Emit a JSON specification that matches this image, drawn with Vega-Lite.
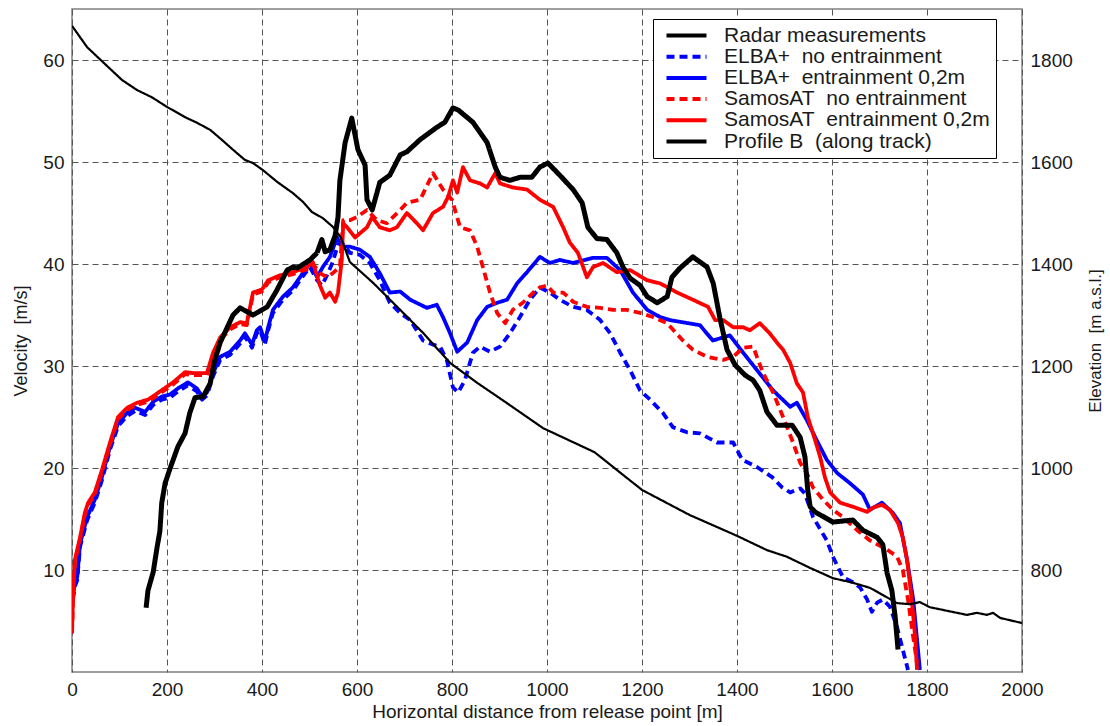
{
  "$schema": "https://vega.github.io/schema/vega-lite/v6.json",
  "autosize": {"type": "none"},
  "padding": {"left": 72, "top": 9, "right": 88, "bottom": 54},
  "width": 950,
  "height": 663,
  "background": "white",
  "config": {
    "font": "Liberation Sans",
    "view": {"stroke": "#808080", "strokeWidth": 1.5},
    "axis": {
      "labelFont": "Liberation Sans", "labelFontSize": 19, "labelColor": "#1a1a1a", "labelFlush": false,
      "titleFont": "Liberation Sans", "titleFontSize": 18, "titleFontWeight": "normal", "titleColor": "#1a1a1a",
      "domain": false, "ticks": false,
      "gridColor": "#555555", "gridDash": [6, 4], "gridWidth": 1, "gridOpacity": 1
    },
    "legend": {"labelFont": "Liberation Sans"}
  },
  "datasets": {
    "vel": [
      {"s": "ELBA+\u00a0 no entrainment", "x": 2, "v": 7.1}, {"s": "ELBA+\u00a0 no entrainment", "x": 6, "v": 8.4}, {"s": "ELBA+\u00a0 no entrainment", "x": 11, "v": 9.0}, {"s": "ELBA+\u00a0 no entrainment", "x": 17, "v": 12.3}, {"s": "ELBA+\u00a0 no entrainment", "x": 32, "v": 14.9}, {"s": "ELBA+\u00a0 no entrainment", "x": 48, "v": 16.6}, {"s": "ELBA+\u00a0 no entrainment", "x": 63, "v": 18.8}, {"s": "ELBA+\u00a0 no entrainment", "x": 80, "v": 21.8}, {"s": "ELBA+\u00a0 no entrainment", "x": 97, "v": 24.1}, {"s": "ELBA+\u00a0 no entrainment", "x": 116, "v": 25.1}, {"s": "ELBA+\u00a0 no entrainment", "x": 133, "v": 25.6}, {"s": "ELBA+\u00a0 no entrainment", "x": 154, "v": 25.2}, {"s": "ELBA+\u00a0 no entrainment", "x": 171, "v": 26.2}, {"s": "ELBA+\u00a0 no entrainment", "x": 189, "v": 26.7}, {"s": "ELBA+\u00a0 no entrainment", "x": 206, "v": 26.9}, {"s": "ELBA+\u00a0 no entrainment", "x": 223, "v": 27.5}, {"s": "ELBA+\u00a0 no entrainment", "x": 244, "v": 28.1}, {"s": "ELBA+\u00a0 no entrainment", "x": 263, "v": 27.5}, {"s": "ELBA+\u00a0 no entrainment", "x": 274, "v": 26.7}, {"s": "ELBA+\u00a0 no entrainment", "x": 284, "v": 27.1}, {"s": "ELBA+\u00a0 no entrainment", "x": 297, "v": 29.0}, {"s": "ELBA+\u00a0 no entrainment", "x": 312, "v": 30.6}, {"s": "ELBA+\u00a0 no entrainment", "x": 333, "v": 31.1}, {"s": "ELBA+\u00a0 no entrainment", "x": 354, "v": 32.2}, {"s": "ELBA+\u00a0 no entrainment", "x": 364, "v": 32.9}, {"s": "ELBA+\u00a0 no entrainment", "x": 379, "v": 31.8}, {"s": "ELBA+\u00a0 no entrainment", "x": 389, "v": 33.2}, {"s": "ELBA+\u00a0 no entrainment", "x": 396, "v": 33.5}, {"s": "ELBA+\u00a0 no entrainment", "x": 406, "v": 32.1}, {"s": "ELBA+\u00a0 no entrainment", "x": 413, "v": 33.5}, {"s": "ELBA+\u00a0 no entrainment", "x": 423, "v": 35.2}, {"s": "ELBA+\u00a0 no entrainment", "x": 444, "v": 36.5}, {"s": "ELBA+\u00a0 no entrainment", "x": 465, "v": 37.4}, {"s": "ELBA+\u00a0 no entrainment", "x": 486, "v": 38.8}, {"s": "ELBA+\u00a0 no entrainment", "x": 501, "v": 39.7}, {"s": "ELBA+\u00a0 no entrainment", "x": 516, "v": 38.4}, {"s": "ELBA+\u00a0 no entrainment", "x": 526, "v": 37.9}, {"s": "ELBA+\u00a0 no entrainment", "x": 537, "v": 38.9}, {"s": "ELBA+\u00a0 no entrainment", "x": 549, "v": 40.2}, {"s": "ELBA+\u00a0 no entrainment", "x": 560, "v": 41.9}, {"s": "ELBA+\u00a0 no entrainment", "x": 568, "v": 42.1}, {"s": "ELBA+\u00a0 no entrainment", "x": 585, "v": 41.1}, {"s": "ELBA+\u00a0 no entrainment", "x": 606, "v": 40.9}, {"s": "ELBA+\u00a0 no entrainment", "x": 627, "v": 40.1}, {"s": "ELBA+\u00a0 no entrainment", "x": 648, "v": 38.4}, {"s": "ELBA+\u00a0 no entrainment", "x": 669, "v": 36.2}, {"s": "ELBA+\u00a0 no entrainment", "x": 691, "v": 35.2}, {"s": "ELBA+\u00a0 no entrainment", "x": 712, "v": 34.5}, {"s": "ELBA+\u00a0 no entrainment", "x": 739, "v": 32.5}, {"s": "ELBA+\u00a0 no entrainment", "x": 760, "v": 32.1}, {"s": "ELBA+\u00a0 no entrainment", "x": 775, "v": 31.9}, {"s": "ELBA+\u00a0 no entrainment", "x": 789, "v": 30.6}, {"s": "ELBA+\u00a0 no entrainment", "x": 802, "v": 27.9}, {"s": "ELBA+\u00a0 no entrainment", "x": 813, "v": 27.4}, {"s": "ELBA+\u00a0 no entrainment", "x": 827, "v": 28.6}, {"s": "ELBA+\u00a0 no entrainment", "x": 844, "v": 31.3}, {"s": "ELBA+\u00a0 no entrainment", "x": 859, "v": 31.9}, {"s": "ELBA+\u00a0 no entrainment", "x": 880, "v": 31.4}, {"s": "ELBA+\u00a0 no entrainment", "x": 901, "v": 31.9}, {"s": "ELBA+\u00a0 no entrainment", "x": 922, "v": 33.2}, {"s": "ELBA+\u00a0 no entrainment", "x": 943, "v": 34.8}, {"s": "ELBA+\u00a0 no entrainment", "x": 964, "v": 36.5}, {"s": "ELBA+\u00a0 no entrainment", "x": 985, "v": 37.7}, {"s": "ELBA+\u00a0 no entrainment", "x": 1006, "v": 37.2}, {"s": "ELBA+\u00a0 no entrainment", "x": 1027, "v": 36.5}, {"s": "ELBA+\u00a0 no entrainment", "x": 1055, "v": 35.8}, {"s": "ELBA+\u00a0 no entrainment", "x": 1084, "v": 35.5}, {"s": "ELBA+\u00a0 no entrainment", "x": 1112, "v": 34.5}, {"s": "ELBA+\u00a0 no entrainment", "x": 1133, "v": 33.2}, {"s": "ELBA+\u00a0 no entrainment", "x": 1154, "v": 31.3}, {"s": "ELBA+\u00a0 no entrainment", "x": 1175, "v": 29.6}, {"s": "ELBA+\u00a0 no entrainment", "x": 1196, "v": 27.6}, {"s": "ELBA+\u00a0 no entrainment", "x": 1217, "v": 26.7}, {"s": "ELBA+\u00a0 no entrainment", "x": 1244, "v": 25.4}, {"s": "ELBA+\u00a0 no entrainment", "x": 1265, "v": 24.0}, {"s": "ELBA+\u00a0 no entrainment", "x": 1295, "v": 23.5}, {"s": "ELBA+\u00a0 no entrainment", "x": 1322, "v": 23.4}, {"s": "ELBA+\u00a0 no entrainment", "x": 1358, "v": 22.5}, {"s": "ELBA+\u00a0 no entrainment", "x": 1392, "v": 22.5}, {"s": "ELBA+\u00a0 no entrainment", "x": 1411, "v": 20.8}, {"s": "ELBA+\u00a0 no entrainment", "x": 1442, "v": 20.1}, {"s": "ELBA+\u00a0 no entrainment", "x": 1474, "v": 19.1}, {"s": "ELBA+\u00a0 no entrainment", "x": 1495, "v": 18.1}, {"s": "ELBA+\u00a0 no entrainment", "x": 1512, "v": 17.6}, {"s": "ELBA+\u00a0 no entrainment", "x": 1533, "v": 18.0}, {"s": "ELBA+\u00a0 no entrainment", "x": 1543, "v": 17.5}, {"s": "ELBA+\u00a0 no entrainment", "x": 1560, "v": 15.2}, {"s": "ELBA+\u00a0 no entrainment", "x": 1589, "v": 12.9}, {"s": "ELBA+\u00a0 no entrainment", "x": 1602, "v": 11.3}, {"s": "ELBA+\u00a0 no entrainment", "x": 1623, "v": 9.3}, {"s": "ELBA+\u00a0 no entrainment", "x": 1644, "v": 8.8}, {"s": "ELBA+\u00a0 no entrainment", "x": 1659, "v": 8.3}, {"s": "ELBA+\u00a0 no entrainment", "x": 1674, "v": 7.1}, {"s": "ELBA+\u00a0 no entrainment", "x": 1684, "v": 5.9}, {"s": "ELBA+\u00a0 no entrainment", "x": 1695, "v": 6.8}, {"s": "ELBA+\u00a0 no entrainment", "x": 1707, "v": 7.1}, {"s": "ELBA+\u00a0 no entrainment", "x": 1722, "v": 6.4}, {"s": "ELBA+\u00a0 no entrainment", "x": 1737, "v": 4.4}, {"s": "ELBA+\u00a0 no entrainment", "x": 1749, "v": 2.2}, {"s": "ELBA+\u00a0 no entrainment", "x": 1760, "v": 0.2},

      {"s": "ELBA+\u00a0 entrainment 0,2m", "x": 2, "v": 7.4}, {"s": "ELBA+\u00a0 entrainment 0,2m", "x": 6, "v": 8.7}, {"s": "ELBA+\u00a0 entrainment 0,2m", "x": 11, "v": 9.3}, {"s": "ELBA+\u00a0 entrainment 0,2m", "x": 17, "v": 12.6}, {"s": "ELBA+\u00a0 entrainment 0,2m", "x": 32, "v": 15.2}, {"s": "ELBA+\u00a0 entrainment 0,2m", "x": 48, "v": 16.9}, {"s": "ELBA+\u00a0 entrainment 0,2m", "x": 63, "v": 19.1}, {"s": "ELBA+\u00a0 entrainment 0,2m", "x": 80, "v": 22.1}, {"s": "ELBA+\u00a0 entrainment 0,2m", "x": 97, "v": 24.4}, {"s": "ELBA+\u00a0 entrainment 0,2m", "x": 116, "v": 25.4}, {"s": "ELBA+\u00a0 entrainment 0,2m", "x": 133, "v": 25.9}, {"s": "ELBA+\u00a0 entrainment 0,2m", "x": 154, "v": 25.5}, {"s": "ELBA+\u00a0 entrainment 0,2m", "x": 171, "v": 26.5}, {"s": "ELBA+\u00a0 entrainment 0,2m", "x": 189, "v": 27.0}, {"s": "ELBA+\u00a0 entrainment 0,2m", "x": 206, "v": 27.2}, {"s": "ELBA+\u00a0 entrainment 0,2m", "x": 223, "v": 27.8}, {"s": "ELBA+\u00a0 entrainment 0,2m", "x": 244, "v": 28.4}, {"s": "ELBA+\u00a0 entrainment 0,2m", "x": 263, "v": 27.8}, {"s": "ELBA+\u00a0 entrainment 0,2m", "x": 274, "v": 27.0}, {"s": "ELBA+\u00a0 entrainment 0,2m", "x": 284, "v": 27.4}, {"s": "ELBA+\u00a0 entrainment 0,2m", "x": 297, "v": 29.3}, {"s": "ELBA+\u00a0 entrainment 0,2m", "x": 312, "v": 30.9}, {"s": "ELBA+\u00a0 entrainment 0,2m", "x": 333, "v": 31.4}, {"s": "ELBA+\u00a0 entrainment 0,2m", "x": 354, "v": 32.5}, {"s": "ELBA+\u00a0 entrainment 0,2m", "x": 364, "v": 33.2}, {"s": "ELBA+\u00a0 entrainment 0,2m", "x": 379, "v": 32.1}, {"s": "ELBA+\u00a0 entrainment 0,2m", "x": 389, "v": 33.5}, {"s": "ELBA+\u00a0 entrainment 0,2m", "x": 396, "v": 33.8}, {"s": "ELBA+\u00a0 entrainment 0,2m", "x": 406, "v": 32.4}, {"s": "ELBA+\u00a0 entrainment 0,2m", "x": 413, "v": 33.8}, {"s": "ELBA+\u00a0 entrainment 0,2m", "x": 423, "v": 35.5}, {"s": "ELBA+\u00a0 entrainment 0,2m", "x": 444, "v": 36.8}, {"s": "ELBA+\u00a0 entrainment 0,2m", "x": 465, "v": 37.7}, {"s": "ELBA+\u00a0 entrainment 0,2m", "x": 486, "v": 39.1}, {"s": "ELBA+\u00a0 entrainment 0,2m", "x": 501, "v": 40.1}, {"s": "ELBA+\u00a0 entrainment 0,2m", "x": 516, "v": 38.7}, {"s": "ELBA+\u00a0 entrainment 0,2m", "x": 528, "v": 39.7}, {"s": "ELBA+\u00a0 entrainment 0,2m", "x": 543, "v": 40.7}, {"s": "ELBA+\u00a0 entrainment 0,2m", "x": 558, "v": 42.6}, {"s": "ELBA+\u00a0 entrainment 0,2m", "x": 568, "v": 41.7}, {"s": "ELBA+\u00a0 entrainment 0,2m", "x": 585, "v": 41.7}, {"s": "ELBA+\u00a0 entrainment 0,2m", "x": 606, "v": 41.4}, {"s": "ELBA+\u00a0 entrainment 0,2m", "x": 627, "v": 40.7}, {"s": "ELBA+\u00a0 entrainment 0,2m", "x": 648, "v": 39.1}, {"s": "ELBA+\u00a0 entrainment 0,2m", "x": 669, "v": 37.2}, {"s": "ELBA+\u00a0 entrainment 0,2m", "x": 691, "v": 37.3}, {"s": "ELBA+\u00a0 entrainment 0,2m", "x": 712, "v": 36.5}, {"s": "ELBA+\u00a0 entrainment 0,2m", "x": 747, "v": 35.7}, {"s": "ELBA+\u00a0 entrainment 0,2m", "x": 768, "v": 36.0}, {"s": "ELBA+\u00a0 entrainment 0,2m", "x": 781, "v": 34.8}, {"s": "ELBA+\u00a0 entrainment 0,2m", "x": 796, "v": 33.2}, {"s": "ELBA+\u00a0 entrainment 0,2m", "x": 811, "v": 31.4}, {"s": "ELBA+\u00a0 entrainment 0,2m", "x": 832, "v": 32.3}, {"s": "ELBA+\u00a0 entrainment 0,2m", "x": 853, "v": 34.5}, {"s": "ELBA+\u00a0 entrainment 0,2m", "x": 874, "v": 35.8}, {"s": "ELBA+\u00a0 entrainment 0,2m", "x": 895, "v": 36.2}, {"s": "ELBA+\u00a0 entrainment 0,2m", "x": 916, "v": 36.5}, {"s": "ELBA+\u00a0 entrainment 0,2m", "x": 937, "v": 38.1}, {"s": "ELBA+\u00a0 entrainment 0,2m", "x": 958, "v": 39.2}, {"s": "ELBA+\u00a0 entrainment 0,2m", "x": 985, "v": 40.7}, {"s": "ELBA+\u00a0 entrainment 0,2m", "x": 1006, "v": 40.1}, {"s": "ELBA+\u00a0 entrainment 0,2m", "x": 1027, "v": 40.4}, {"s": "ELBA+\u00a0 entrainment 0,2m", "x": 1055, "v": 40.1}, {"s": "ELBA+\u00a0 entrainment 0,2m", "x": 1097, "v": 40.6}, {"s": "ELBA+\u00a0 entrainment 0,2m", "x": 1126, "v": 40.6}, {"s": "ELBA+\u00a0 entrainment 0,2m", "x": 1154, "v": 39.4}, {"s": "ELBA+\u00a0 entrainment 0,2m", "x": 1181, "v": 37.2}, {"s": "ELBA+\u00a0 entrainment 0,2m", "x": 1211, "v": 35.5}, {"s": "ELBA+\u00a0 entrainment 0,2m", "x": 1238, "v": 34.8}, {"s": "ELBA+\u00a0 entrainment 0,2m", "x": 1259, "v": 34.5}, {"s": "ELBA+\u00a0 entrainment 0,2m", "x": 1322, "v": 34.0}, {"s": "ELBA+\u00a0 entrainment 0,2m", "x": 1349, "v": 32.5}, {"s": "ELBA+\u00a0 entrainment 0,2m", "x": 1385, "v": 33.0}, {"s": "ELBA+\u00a0 entrainment 0,2m", "x": 1413, "v": 31.3}, {"s": "ELBA+\u00a0 entrainment 0,2m", "x": 1442, "v": 29.6}, {"s": "ELBA+\u00a0 entrainment 0,2m", "x": 1476, "v": 27.6}, {"s": "ELBA+\u00a0 entrainment 0,2m", "x": 1512, "v": 26.0}, {"s": "ELBA+\u00a0 entrainment 0,2m", "x": 1526, "v": 26.4}, {"s": "ELBA+\u00a0 entrainment 0,2m", "x": 1547, "v": 24.7}, {"s": "ELBA+\u00a0 entrainment 0,2m", "x": 1568, "v": 22.7}, {"s": "ELBA+\u00a0 entrainment 0,2m", "x": 1589, "v": 20.8}, {"s": "ELBA+\u00a0 entrainment 0,2m", "x": 1611, "v": 19.5}, {"s": "ELBA+\u00a0 entrainment 0,2m", "x": 1638, "v": 18.5}, {"s": "ELBA+\u00a0 entrainment 0,2m", "x": 1665, "v": 17.4}, {"s": "ELBA+\u00a0 entrainment 0,2m", "x": 1680, "v": 15.9}, {"s": "ELBA+\u00a0 entrainment 0,2m", "x": 1705, "v": 16.6}, {"s": "ELBA+\u00a0 entrainment 0,2m", "x": 1728, "v": 15.6}, {"s": "ELBA+\u00a0 entrainment 0,2m", "x": 1743, "v": 14.6}, {"s": "ELBA+\u00a0 entrainment 0,2m", "x": 1758, "v": 11.0}, {"s": "ELBA+\u00a0 entrainment 0,2m", "x": 1771, "v": 7.1}, {"s": "ELBA+\u00a0 entrainment 0,2m", "x": 1781, "v": 2.2}, {"s": "ELBA+\u00a0 entrainment 0,2m", "x": 1785, "v": 0.2},

      {"s": "SamosAT\u00a0 no entrainment", "x": 0, "v": 3.8}, {"s": "SamosAT\u00a0 no entrainment", "x": 2, "v": 7.0}, {"s": "SamosAT\u00a0 no entrainment", "x": 6, "v": 10.8}, {"s": "SamosAT\u00a0 no entrainment", "x": 17, "v": 13.0}, {"s": "SamosAT\u00a0 no entrainment", "x": 27, "v": 15.4}, {"s": "SamosAT\u00a0 no entrainment", "x": 34, "v": 16.4}, {"s": "SamosAT\u00a0 no entrainment", "x": 48, "v": 17.4}, {"s": "SamosAT\u00a0 no entrainment", "x": 63, "v": 19.6}, {"s": "SamosAT\u00a0 no entrainment", "x": 80, "v": 22.3}, {"s": "SamosAT\u00a0 no entrainment", "x": 97, "v": 24.8}, {"s": "SamosAT\u00a0 no entrainment", "x": 116, "v": 25.7}, {"s": "SamosAT\u00a0 no entrainment", "x": 137, "v": 26.2}, {"s": "SamosAT\u00a0 no entrainment", "x": 160, "v": 26.5}, {"s": "SamosAT\u00a0 no entrainment", "x": 185, "v": 27.3}, {"s": "SamosAT\u00a0 no entrainment", "x": 213, "v": 28.2}, {"s": "SamosAT\u00a0 no entrainment", "x": 238, "v": 29.2}, {"s": "SamosAT\u00a0 no entrainment", "x": 255, "v": 29.1}, {"s": "SamosAT\u00a0 no entrainment", "x": 284, "v": 29.1}, {"s": "SamosAT\u00a0 no entrainment", "x": 297, "v": 31.1}, {"s": "SamosAT\u00a0 no entrainment", "x": 312, "v": 32.6}, {"s": "SamosAT\u00a0 no entrainment", "x": 333, "v": 33.6}, {"s": "SamosAT\u00a0 no entrainment", "x": 354, "v": 34.1}, {"s": "SamosAT\u00a0 no entrainment", "x": 368, "v": 34.0}, {"s": "SamosAT\u00a0 no entrainment", "x": 381, "v": 37.0}, {"s": "SamosAT\u00a0 no entrainment", "x": 400, "v": 37.3}, {"s": "SamosAT\u00a0 no entrainment", "x": 413, "v": 38.2}, {"s": "SamosAT\u00a0 no entrainment", "x": 438, "v": 38.7}, {"s": "SamosAT\u00a0 no entrainment", "x": 465, "v": 39.0}, {"s": "SamosAT\u00a0 no entrainment", "x": 495, "v": 39.5}, {"s": "SamosAT\u00a0 no entrainment", "x": 507, "v": 40.0}, {"s": "SamosAT\u00a0 no entrainment", "x": 522, "v": 39.1}, {"s": "SamosAT\u00a0 no entrainment", "x": 537, "v": 38.7}, {"s": "SamosAT\u00a0 no entrainment", "x": 549, "v": 39.1}, {"s": "SamosAT\u00a0 no entrainment", "x": 564, "v": 39.7}, {"s": "SamosAT\u00a0 no entrainment", "x": 571, "v": 44.3}, {"s": "SamosAT\u00a0 no entrainment", "x": 585, "v": 44.3}, {"s": "SamosAT\u00a0 no entrainment", "x": 600, "v": 44.6}, {"s": "SamosAT\u00a0 no entrainment", "x": 621, "v": 45.3}, {"s": "SamosAT\u00a0 no entrainment", "x": 642, "v": 44.3}, {"s": "SamosAT\u00a0 no entrainment", "x": 663, "v": 44.0}, {"s": "SamosAT\u00a0 no entrainment", "x": 691, "v": 45.3}, {"s": "SamosAT\u00a0 no entrainment", "x": 705, "v": 46.0}, {"s": "SamosAT\u00a0 no entrainment", "x": 733, "v": 46.3}, {"s": "SamosAT\u00a0 no entrainment", "x": 760, "v": 48.9}, {"s": "SamosAT\u00a0 no entrainment", "x": 781, "v": 47.3}, {"s": "SamosAT\u00a0 no entrainment", "x": 800, "v": 46.3}, {"s": "SamosAT\u00a0 no entrainment", "x": 817, "v": 43.6}, {"s": "SamosAT\u00a0 no entrainment", "x": 838, "v": 43.3}, {"s": "SamosAT\u00a0 no entrainment", "x": 853, "v": 41.7}, {"s": "SamosAT\u00a0 no entrainment", "x": 865, "v": 39.7}, {"s": "SamosAT\u00a0 no entrainment", "x": 880, "v": 37.2}, {"s": "SamosAT\u00a0 no entrainment", "x": 895, "v": 35.2}, {"s": "SamosAT\u00a0 no entrainment", "x": 912, "v": 34.2}, {"s": "SamosAT\u00a0 no entrainment", "x": 928, "v": 35.5}, {"s": "SamosAT\u00a0 no entrainment", "x": 949, "v": 36.2}, {"s": "SamosAT\u00a0 no entrainment", "x": 971, "v": 37.2}, {"s": "SamosAT\u00a0 no entrainment", "x": 985, "v": 37.7}, {"s": "SamosAT\u00a0 no entrainment", "x": 1000, "v": 37.9}, {"s": "SamosAT\u00a0 no entrainment", "x": 1013, "v": 37.2}, {"s": "SamosAT\u00a0 no entrainment", "x": 1034, "v": 37.2}, {"s": "SamosAT\u00a0 no entrainment", "x": 1055, "v": 36.3}, {"s": "SamosAT\u00a0 no entrainment", "x": 1084, "v": 35.8}, {"s": "SamosAT\u00a0 no entrainment", "x": 1112, "v": 35.7}, {"s": "SamosAT\u00a0 no entrainment", "x": 1139, "v": 35.5}, {"s": "SamosAT\u00a0 no entrainment", "x": 1168, "v": 35.5}, {"s": "SamosAT\u00a0 no entrainment", "x": 1196, "v": 35.2}, {"s": "SamosAT\u00a0 no entrainment", "x": 1223, "v": 34.8}, {"s": "SamosAT\u00a0 no entrainment", "x": 1253, "v": 34.2}, {"s": "SamosAT\u00a0 no entrainment", "x": 1286, "v": 32.5}, {"s": "SamosAT\u00a0 no entrainment", "x": 1307, "v": 31.6}, {"s": "SamosAT\u00a0 no entrainment", "x": 1337, "v": 30.9}, {"s": "SamosAT\u00a0 no entrainment", "x": 1371, "v": 30.6}, {"s": "SamosAT\u00a0 no entrainment", "x": 1392, "v": 30.9}, {"s": "SamosAT\u00a0 no entrainment", "x": 1413, "v": 31.8}, {"s": "SamosAT\u00a0 no entrainment", "x": 1434, "v": 31.9}, {"s": "SamosAT\u00a0 no entrainment", "x": 1442, "v": 30.9}, {"s": "SamosAT\u00a0 no entrainment", "x": 1455, "v": 29.3}, {"s": "SamosAT\u00a0 no entrainment", "x": 1476, "v": 27.4}, {"s": "SamosAT\u00a0 no entrainment", "x": 1497, "v": 25.0}, {"s": "SamosAT\u00a0 no entrainment", "x": 1518, "v": 22.5}, {"s": "SamosAT\u00a0 no entrainment", "x": 1533, "v": 20.5}, {"s": "SamosAT\u00a0 no entrainment", "x": 1547, "v": 19.5}, {"s": "SamosAT\u00a0 no entrainment", "x": 1560, "v": 18.1}, {"s": "SamosAT\u00a0 no entrainment", "x": 1581, "v": 16.9}, {"s": "SamosAT\u00a0 no entrainment", "x": 1602, "v": 15.9}, {"s": "SamosAT\u00a0 no entrainment", "x": 1623, "v": 15.2}, {"s": "SamosAT\u00a0 no entrainment", "x": 1653, "v": 13.9}, {"s": "SamosAT\u00a0 no entrainment", "x": 1680, "v": 12.9}, {"s": "SamosAT\u00a0 no entrainment", "x": 1716, "v": 12.0}, {"s": "SamosAT\u00a0 no entrainment", "x": 1737, "v": 11.3}, {"s": "SamosAT\u00a0 no entrainment", "x": 1749, "v": 10.0}, {"s": "SamosAT\u00a0 no entrainment", "x": 1760, "v": 7.1}, {"s": "SamosAT\u00a0 no entrainment", "x": 1771, "v": 3.4}, {"s": "SamosAT\u00a0 no entrainment", "x": 1779, "v": 0.9},

      {"s": "SamosAT\u00a0 entrainment 0,2m", "x": 0, "v": 3.8}, {"s": "SamosAT\u00a0 entrainment 0,2m", "x": 2, "v": 7.1}, {"s": "SamosAT\u00a0 entrainment 0,2m", "x": 6, "v": 11.0}, {"s": "SamosAT\u00a0 entrainment 0,2m", "x": 17, "v": 13.2}, {"s": "SamosAT\u00a0 entrainment 0,2m", "x": 27, "v": 15.6}, {"s": "SamosAT\u00a0 entrainment 0,2m", "x": 34, "v": 16.6}, {"s": "SamosAT\u00a0 entrainment 0,2m", "x": 48, "v": 17.6}, {"s": "SamosAT\u00a0 entrainment 0,2m", "x": 63, "v": 19.8}, {"s": "SamosAT\u00a0 entrainment 0,2m", "x": 80, "v": 22.5}, {"s": "SamosAT\u00a0 entrainment 0,2m", "x": 97, "v": 25.0}, {"s": "SamosAT\u00a0 entrainment 0,2m", "x": 116, "v": 25.9}, {"s": "SamosAT\u00a0 entrainment 0,2m", "x": 137, "v": 26.4}, {"s": "SamosAT\u00a0 entrainment 0,2m", "x": 160, "v": 26.7}, {"s": "SamosAT\u00a0 entrainment 0,2m", "x": 185, "v": 27.5}, {"s": "SamosAT\u00a0 entrainment 0,2m", "x": 213, "v": 28.4}, {"s": "SamosAT\u00a0 entrainment 0,2m", "x": 238, "v": 29.4}, {"s": "SamosAT\u00a0 entrainment 0,2m", "x": 255, "v": 29.3}, {"s": "SamosAT\u00a0 entrainment 0,2m", "x": 284, "v": 29.3}, {"s": "SamosAT\u00a0 entrainment 0,2m", "x": 297, "v": 31.3}, {"s": "SamosAT\u00a0 entrainment 0,2m", "x": 312, "v": 32.8}, {"s": "SamosAT\u00a0 entrainment 0,2m", "x": 333, "v": 33.8}, {"s": "SamosAT\u00a0 entrainment 0,2m", "x": 354, "v": 34.3}, {"s": "SamosAT\u00a0 entrainment 0,2m", "x": 368, "v": 34.2}, {"s": "SamosAT\u00a0 entrainment 0,2m", "x": 381, "v": 37.2}, {"s": "SamosAT\u00a0 entrainment 0,2m", "x": 400, "v": 37.5}, {"s": "SamosAT\u00a0 entrainment 0,2m", "x": 413, "v": 38.4}, {"s": "SamosAT\u00a0 entrainment 0,2m", "x": 438, "v": 38.9}, {"s": "SamosAT\u00a0 entrainment 0,2m", "x": 465, "v": 39.2}, {"s": "SamosAT\u00a0 entrainment 0,2m", "x": 495, "v": 39.7}, {"s": "SamosAT\u00a0 entrainment 0,2m", "x": 507, "v": 40.2}, {"s": "SamosAT\u00a0 entrainment 0,2m", "x": 522, "v": 37.9}, {"s": "SamosAT\u00a0 entrainment 0,2m", "x": 533, "v": 36.7}, {"s": "SamosAT\u00a0 entrainment 0,2m", "x": 543, "v": 37.2}, {"s": "SamosAT\u00a0 entrainment 0,2m", "x": 554, "v": 36.3}, {"s": "SamosAT\u00a0 entrainment 0,2m", "x": 560, "v": 37.2}, {"s": "SamosAT\u00a0 entrainment 0,2m", "x": 568, "v": 40.4}, {"s": "SamosAT\u00a0 entrainment 0,2m", "x": 571, "v": 44.0}, {"s": "SamosAT\u00a0 entrainment 0,2m", "x": 579, "v": 43.6}, {"s": "SamosAT\u00a0 entrainment 0,2m", "x": 596, "v": 42.6}, {"s": "SamosAT\u00a0 entrainment 0,2m", "x": 621, "v": 43.6}, {"s": "SamosAT\u00a0 entrainment 0,2m", "x": 632, "v": 44.6}, {"s": "SamosAT\u00a0 entrainment 0,2m", "x": 648, "v": 43.6}, {"s": "SamosAT\u00a0 entrainment 0,2m", "x": 669, "v": 43.3}, {"s": "SamosAT\u00a0 entrainment 0,2m", "x": 684, "v": 43.6}, {"s": "SamosAT\u00a0 entrainment 0,2m", "x": 705, "v": 45.0}, {"s": "SamosAT\u00a0 entrainment 0,2m", "x": 726, "v": 44.0}, {"s": "SamosAT\u00a0 entrainment 0,2m", "x": 739, "v": 43.3}, {"s": "SamosAT\u00a0 entrainment 0,2m", "x": 760, "v": 45.0}, {"s": "SamosAT\u00a0 entrainment 0,2m", "x": 781, "v": 45.6}, {"s": "SamosAT\u00a0 entrainment 0,2m", "x": 792, "v": 46.6}, {"s": "SamosAT\u00a0 entrainment 0,2m", "x": 802, "v": 48.2}, {"s": "SamosAT\u00a0 entrainment 0,2m", "x": 811, "v": 47.0}, {"s": "SamosAT\u00a0 entrainment 0,2m", "x": 823, "v": 49.5}, {"s": "SamosAT\u00a0 entrainment 0,2m", "x": 838, "v": 48.2}, {"s": "SamosAT\u00a0 entrainment 0,2m", "x": 859, "v": 47.9}, {"s": "SamosAT\u00a0 entrainment 0,2m", "x": 874, "v": 47.5}, {"s": "SamosAT\u00a0 entrainment 0,2m", "x": 891, "v": 48.9}, {"s": "SamosAT\u00a0 entrainment 0,2m", "x": 901, "v": 47.9}, {"s": "SamosAT\u00a0 entrainment 0,2m", "x": 928, "v": 47.5}, {"s": "SamosAT\u00a0 entrainment 0,2m", "x": 958, "v": 47.3}, {"s": "SamosAT\u00a0 entrainment 0,2m", "x": 985, "v": 46.3}, {"s": "SamosAT\u00a0 entrainment 0,2m", "x": 1013, "v": 45.6}, {"s": "SamosAT\u00a0 entrainment 0,2m", "x": 1034, "v": 43.6}, {"s": "SamosAT\u00a0 entrainment 0,2m", "x": 1048, "v": 42.1}, {"s": "SamosAT\u00a0 entrainment 0,2m", "x": 1065, "v": 41.1}, {"s": "SamosAT\u00a0 entrainment 0,2m", "x": 1084, "v": 38.7}, {"s": "SamosAT\u00a0 entrainment 0,2m", "x": 1097, "v": 39.7}, {"s": "SamosAT\u00a0 entrainment 0,2m", "x": 1118, "v": 40.1}, {"s": "SamosAT\u00a0 entrainment 0,2m", "x": 1147, "v": 39.2}, {"s": "SamosAT\u00a0 entrainment 0,2m", "x": 1175, "v": 39.4}, {"s": "SamosAT\u00a0 entrainment 0,2m", "x": 1211, "v": 38.4}, {"s": "SamosAT\u00a0 entrainment 0,2m", "x": 1238, "v": 38.1}, {"s": "SamosAT\u00a0 entrainment 0,2m", "x": 1274, "v": 37.2}, {"s": "SamosAT\u00a0 entrainment 0,2m", "x": 1307, "v": 36.5}, {"s": "SamosAT\u00a0 entrainment 0,2m", "x": 1339, "v": 35.8}, {"s": "SamosAT\u00a0 entrainment 0,2m", "x": 1354, "v": 34.5}, {"s": "SamosAT\u00a0 entrainment 0,2m", "x": 1371, "v": 34.5}, {"s": "SamosAT\u00a0 entrainment 0,2m", "x": 1392, "v": 33.8}, {"s": "SamosAT\u00a0 entrainment 0,2m", "x": 1413, "v": 33.8}, {"s": "SamosAT\u00a0 entrainment 0,2m", "x": 1427, "v": 33.5}, {"s": "SamosAT\u00a0 entrainment 0,2m", "x": 1448, "v": 34.2}, {"s": "SamosAT\u00a0 entrainment 0,2m", "x": 1469, "v": 33.2}, {"s": "SamosAT\u00a0 entrainment 0,2m", "x": 1484, "v": 32.3}, {"s": "SamosAT\u00a0 entrainment 0,2m", "x": 1497, "v": 31.6}, {"s": "SamosAT\u00a0 entrainment 0,2m", "x": 1512, "v": 30.3}, {"s": "SamosAT\u00a0 entrainment 0,2m", "x": 1526, "v": 28.3}, {"s": "SamosAT\u00a0 entrainment 0,2m", "x": 1539, "v": 27.4}, {"s": "SamosAT\u00a0 entrainment 0,2m", "x": 1549, "v": 25.0}, {"s": "SamosAT\u00a0 entrainment 0,2m", "x": 1560, "v": 23.4}, {"s": "SamosAT\u00a0 entrainment 0,2m", "x": 1575, "v": 21.1}, {"s": "SamosAT\u00a0 entrainment 0,2m", "x": 1585, "v": 19.1}, {"s": "SamosAT\u00a0 entrainment 0,2m", "x": 1596, "v": 17.6}, {"s": "SamosAT\u00a0 entrainment 0,2m", "x": 1617, "v": 16.6}, {"s": "SamosAT\u00a0 entrainment 0,2m", "x": 1644, "v": 16.2}, {"s": "SamosAT\u00a0 entrainment 0,2m", "x": 1674, "v": 15.7}, {"s": "SamosAT\u00a0 entrainment 0,2m", "x": 1686, "v": 16.1}, {"s": "SamosAT\u00a0 entrainment 0,2m", "x": 1705, "v": 16.4}, {"s": "SamosAT\u00a0 entrainment 0,2m", "x": 1722, "v": 15.9}, {"s": "SamosAT\u00a0 entrainment 0,2m", "x": 1739, "v": 14.6}, {"s": "SamosAT\u00a0 entrainment 0,2m", "x": 1749, "v": 13.2}, {"s": "SamosAT\u00a0 entrainment 0,2m", "x": 1758, "v": 11.0}, {"s": "SamosAT\u00a0 entrainment 0,2m", "x": 1768, "v": 7.1}, {"s": "SamosAT\u00a0 entrainment 0,2m", "x": 1775, "v": 3.4}, {"s": "SamosAT\u00a0 entrainment 0,2m", "x": 1779, "v": 0.2}
    ],
    "radar": [
      {"s": "Radar measurements", "x": 156, "v": 6.3}, {"s": "Radar measurements", "x": 160, "v": 8.0}, {"s": "Radar measurements", "x": 171, "v": 9.8}, {"s": "Radar measurements", "x": 179, "v": 12.2}, {"s": "Radar measurements", "x": 185, "v": 13.8}, {"s": "Radar measurements", "x": 189, "v": 16.6}, {"s": "Radar measurements", "x": 196, "v": 18.5}, {"s": "Radar measurements", "x": 206, "v": 19.9}, {"s": "Radar measurements", "x": 223, "v": 22.1}, {"s": "Radar measurements", "x": 238, "v": 23.4}, {"s": "Radar measurements", "x": 248, "v": 25.4}, {"s": "Radar measurements", "x": 259, "v": 26.9}, {"s": "Radar measurements", "x": 276, "v": 27.0}, {"s": "Radar measurements", "x": 291, "v": 28.3}, {"s": "Radar measurements", "x": 299, "v": 30.3}, {"s": "Radar measurements", "x": 312, "v": 32.3}, {"s": "Radar measurements", "x": 326, "v": 33.7}, {"s": "Radar measurements", "x": 339, "v": 35.0}, {"s": "Radar measurements", "x": 354, "v": 35.7}, {"s": "Radar measurements", "x": 381, "v": 35.0}, {"s": "Radar measurements", "x": 411, "v": 35.8}, {"s": "Radar measurements", "x": 432, "v": 37.5}, {"s": "Radar measurements", "x": 453, "v": 39.4}, {"s": "Radar measurements", "x": 465, "v": 39.7}, {"s": "Radar measurements", "x": 474, "v": 39.6}, {"s": "Radar measurements", "x": 501, "v": 40.4}, {"s": "Radar measurements", "x": 516, "v": 41.1}, {"s": "Radar measurements", "x": 526, "v": 42.4}, {"s": "Radar measurements", "x": 533, "v": 41.2}, {"s": "Radar measurements", "x": 543, "v": 41.4}, {"s": "Radar measurements", "x": 554, "v": 42.8}, {"s": "Radar measurements", "x": 560, "v": 44.6}, {"s": "Radar measurements", "x": 564, "v": 48.2}, {"s": "Radar measurements", "x": 575, "v": 51.9}, {"s": "Radar measurements", "x": 589, "v": 54.3}, {"s": "Radar measurements", "x": 602, "v": 51.2}, {"s": "Radar measurements", "x": 617, "v": 49.7}, {"s": "Radar measurements", "x": 621, "v": 46.3}, {"s": "Radar measurements", "x": 632, "v": 45.3}, {"s": "Radar measurements", "x": 648, "v": 48.0}, {"s": "Radar measurements", "x": 669, "v": 48.7}, {"s": "Radar measurements", "x": 691, "v": 50.7}, {"s": "Radar measurements", "x": 705, "v": 51.0}, {"s": "Radar measurements", "x": 733, "v": 52.2}, {"s": "Radar measurements", "x": 768, "v": 53.4}, {"s": "Radar measurements", "x": 785, "v": 53.9}, {"s": "Radar measurements", "x": 802, "v": 55.3}, {"s": "Radar measurements", "x": 813, "v": 55.1}, {"s": "Radar measurements", "x": 844, "v": 53.9}, {"s": "Radar measurements", "x": 874, "v": 51.9}, {"s": "Radar measurements", "x": 891, "v": 49.5}, {"s": "Radar measurements", "x": 901, "v": 48.5}, {"s": "Radar measurements", "x": 922, "v": 48.2}, {"s": "Radar measurements", "x": 943, "v": 48.5}, {"s": "Radar measurements", "x": 968, "v": 48.5}, {"s": "Radar measurements", "x": 985, "v": 49.5}, {"s": "Radar measurements", "x": 1002, "v": 49.9}, {"s": "Radar measurements", "x": 1027, "v": 48.7}, {"s": "Radar measurements", "x": 1055, "v": 47.3}, {"s": "Radar measurements", "x": 1074, "v": 46.0}, {"s": "Radar measurements", "x": 1086, "v": 43.6}, {"s": "Radar measurements", "x": 1105, "v": 42.5}, {"s": "Radar measurements", "x": 1126, "v": 42.4}, {"s": "Radar measurements", "x": 1147, "v": 41.1}, {"s": "Radar measurements", "x": 1160, "v": 39.7}, {"s": "Radar measurements", "x": 1175, "v": 38.6}, {"s": "Radar measurements", "x": 1196, "v": 37.9}, {"s": "Radar measurements", "x": 1211, "v": 36.8}, {"s": "Radar measurements", "x": 1232, "v": 36.2}, {"s": "Radar measurements", "x": 1253, "v": 36.8}, {"s": "Radar measurements", "x": 1263, "v": 38.7}, {"s": "Radar measurements", "x": 1280, "v": 39.6}, {"s": "Radar measurements", "x": 1307, "v": 40.7}, {"s": "Radar measurements", "x": 1337, "v": 39.7}, {"s": "Radar measurements", "x": 1350, "v": 38.1}, {"s": "Radar measurements", "x": 1364, "v": 34.7}, {"s": "Radar measurements", "x": 1379, "v": 31.6}, {"s": "Radar measurements", "x": 1396, "v": 30.1}, {"s": "Radar measurements", "x": 1417, "v": 29.1}, {"s": "Radar measurements", "x": 1434, "v": 28.6}, {"s": "Radar measurements", "x": 1448, "v": 27.6}, {"s": "Radar measurements", "x": 1463, "v": 25.5}, {"s": "Radar measurements", "x": 1484, "v": 24.2}, {"s": "Radar measurements", "x": 1516, "v": 24.2}, {"s": "Radar measurements", "x": 1533, "v": 23.0}, {"s": "Radar measurements", "x": 1543, "v": 21.1}, {"s": "Radar measurements", "x": 1549, "v": 17.8}, {"s": "Radar measurements", "x": 1554, "v": 16.2}, {"s": "Radar measurements", "x": 1564, "v": 15.7}, {"s": "Radar measurements", "x": 1602, "v": 14.7}, {"s": "Radar measurements", "x": 1644, "v": 14.9}, {"s": "Radar measurements", "x": 1665, "v": 13.9}, {"s": "Radar measurements", "x": 1695, "v": 13.2}, {"s": "Radar measurements", "x": 1707, "v": 12.5}, {"s": "Radar measurements", "x": 1716, "v": 9.7}, {"s": "Radar measurements", "x": 1726, "v": 8.0}, {"s": "Radar measurements", "x": 1733, "v": 5.4}, {"s": "Radar measurements", "x": 1739, "v": 2.2}
    ],
    "profile": [
      {"s": "Profile B\u00a0 (along track)", "x": 0, "e": 1867}, {"s": "Profile B\u00a0 (along track)", "x": 32, "e": 1825}, {"s": "Profile B\u00a0 (along track)", "x": 65, "e": 1796}, {"s": "Profile B\u00a0 (along track)", "x": 105, "e": 1761}, {"s": "Profile B\u00a0 (along track)", "x": 137, "e": 1741}, {"s": "Profile B\u00a0 (along track)", "x": 168, "e": 1727}, {"s": "Profile B\u00a0 (along track)", "x": 200, "e": 1708}, {"s": "Profile B\u00a0 (along track)", "x": 242, "e": 1686}, {"s": "Profile B\u00a0 (along track)", "x": 263, "e": 1677}, {"s": "Profile B\u00a0 (along track)", "x": 291, "e": 1663}, {"s": "Profile B\u00a0 (along track)", "x": 316, "e": 1643}, {"s": "Profile B\u00a0 (along track)", "x": 339, "e": 1624}, {"s": "Profile B\u00a0 (along track)", "x": 364, "e": 1604}, {"s": "Profile B\u00a0 (along track)", "x": 381, "e": 1598}, {"s": "Profile B\u00a0 (along track)", "x": 402, "e": 1584}, {"s": "Profile B\u00a0 (along track)", "x": 432, "e": 1561}, {"s": "Profile B\u00a0 (along track)", "x": 465, "e": 1539}, {"s": "Profile B\u00a0 (along track)", "x": 486, "e": 1522}, {"s": "Profile B\u00a0 (along track)", "x": 505, "e": 1502}, {"s": "Profile B\u00a0 (along track)", "x": 528, "e": 1490}, {"s": "Profile B\u00a0 (along track)", "x": 549, "e": 1473}, {"s": "Profile B\u00a0 (along track)", "x": 566, "e": 1452}, {"s": "Profile B\u00a0 (along track)", "x": 585, "e": 1404}, {"s": "Profile B\u00a0 (along track)", "x": 634, "e": 1363}, {"s": "Profile B\u00a0 (along track)", "x": 691, "e": 1310}, {"s": "Profile B\u00a0 (along track)", "x": 739, "e": 1265}, {"s": "Profile B\u00a0 (along track)", "x": 796, "e": 1206}, {"s": "Profile B\u00a0 (along track)", "x": 853, "e": 1167}, {"s": "Profile B\u00a0 (along track)", "x": 916, "e": 1127}, {"s": "Profile B\u00a0 (along track)", "x": 992, "e": 1078}, {"s": "Profile B\u00a0 (along track)", "x": 1100, "e": 1031}, {"s": "Profile B\u00a0 (along track)", "x": 1200, "e": 957}, {"s": "Profile B\u00a0 (along track)", "x": 1300, "e": 908}, {"s": "Profile B\u00a0 (along track)", "x": 1400, "e": 867}, {"s": "Profile B\u00a0 (along track)", "x": 1463, "e": 839}, {"s": "Profile B\u00a0 (along track)", "x": 1505, "e": 826}, {"s": "Profile B\u00a0 (along track)", "x": 1554, "e": 804}, {"s": "Profile B\u00a0 (along track)", "x": 1602, "e": 784}, {"s": "Profile B\u00a0 (along track)", "x": 1644, "e": 775}, {"s": "Profile B\u00a0 (along track)", "x": 1680, "e": 765}, {"s": "Profile B\u00a0 (along track)", "x": 1707, "e": 751}, {"s": "Profile B\u00a0 (along track)", "x": 1737, "e": 735}, {"s": "Profile B\u00a0 (along track)", "x": 1764, "e": 733}, {"s": "Profile B\u00a0 (along track)", "x": 1785, "e": 737}, {"s": "Profile B\u00a0 (along track)", "x": 1806, "e": 727}, {"s": "Profile B\u00a0 (along track)", "x": 1884, "e": 712}, {"s": "Profile B\u00a0 (along track)", "x": 1905, "e": 716}, {"s": "Profile B\u00a0 (along track)", "x": 1926, "e": 712}, {"s": "Profile B\u00a0 (along track)", "x": 1939, "e": 716}, {"s": "Profile B\u00a0 (along track)", "x": 1954, "e": 706}, {"s": "Profile B\u00a0 (along track)", "x": 2000, "e": 696}
    ]
  },
  "layer": [
    {
      "layer": [
        {
          "data": {"name": "vel"},
          "mark": {"type": "line", "strokeWidth": 3.8, "strokeJoin": "round", "clip": true},
          "encoding": {
            "x": {"field": "x", "type": "quantitative", "scale": {"domain": [0, 2000], "nice": false},
                  "axis": {"values": [0, 200, 400, 600, 800, 1000, 1200, 1400, 1600, 1800, 2000], "format": "d", "title": "Horizontal distance from release point [m]", "labelPadding": 8, "titlePadding": 3, "titleFontSize": 19}},
            "y": {"field": "v", "type": "quantitative", "scale": {"domain": [0, 65], "nice": false, "zero": false},
                  "axis": {"orient": "left", "values": [10, 20, 30, 40, 50, 60], "format": "d", "title": "Velocity\u00a0 [m/s]", "labelPadding": 8, "titlePadding": 12}},
            "color": {"field": "s", "type": "nominal",
                      "scale": {"domain": ["Radar measurements", "ELBA+\u00a0 no entrainment", "ELBA+\u00a0 entrainment 0,2m", "SamosAT\u00a0 no entrainment", "SamosAT\u00a0 entrainment 0,2m", "Profile B\u00a0 (along track)"],
                                "range": ["#000000", "#0000ff", "#0000ff", "#ff0000", "#ff0000", "#000000"]},
                      "legend": {"orient": "none", "legendX": 581, "legendY": 10, "title": null, "strokeColor": "#000000", "fillColor": "white", "padding": 6,
                                 "symbolType": "M-0.6,0H7.4", "symbolSize": 100, "symbolStrokeWidth": 4, "labelFontSize": 21, "labelColor": "#1a1a1a", "labelOffset": 44, "labelLimit": 400, "rowPadding": -0.8}},
            "strokeDash": {"field": "s", "type": "nominal",
                      "scale": {"domain": ["Radar measurements", "ELBA+\u00a0 no entrainment", "ELBA+\u00a0 entrainment 0,2m", "SamosAT\u00a0 no entrainment", "SamosAT\u00a0 entrainment 0,2m", "Profile B\u00a0 (along track)"],
                                "range": [[1, 0], [8, 5], [1, 0], [8, 5], [1, 0], [1, 0]]}}
          }
        },
        {
          "data": {"name": "radar"},
          "mark": {"type": "line", "strokeWidth": 5, "strokeJoin": "round", "clip": true},
          "encoding": {
            "x": {"field": "x", "type": "quantitative"},
            "y": {"field": "v", "type": "quantitative"},
            "color": {"field": "s", "type": "nominal"},
            "strokeDash": {"field": "s", "type": "nominal"}
          }
        }
      ]
    },
    {
      "data": {"name": "profile"},
      "mark": {"type": "line", "strokeWidth": 2.2, "strokeJoin": "round", "clip": true},
      "encoding": {
        "x": {"field": "x", "type": "quantitative"},
        "y": {"field": "e", "type": "quantitative", "scale": {"domain": [600, 1900], "nice": false, "zero": false},
              "axis": {"orient": "right", "values": [800, 1000, 1200, 1400, 1600, 1800], "format": "d", "grid": false, "title": "Elevation\u00a0 [m a.s.l.]", "titleAngle": 270, "titleBaseline": "bottom", "labelPadding": 8, "titlePadding": 32, "titleFontSize": 17}},
        "color": {"field": "s", "type": "nominal"},
        "strokeDash": {"field": "s", "type": "nominal"}
      }
    }
  ],
  "resolve": {"scale": {"y": "independent"}, "axis": {"y": "independent"}}
}
